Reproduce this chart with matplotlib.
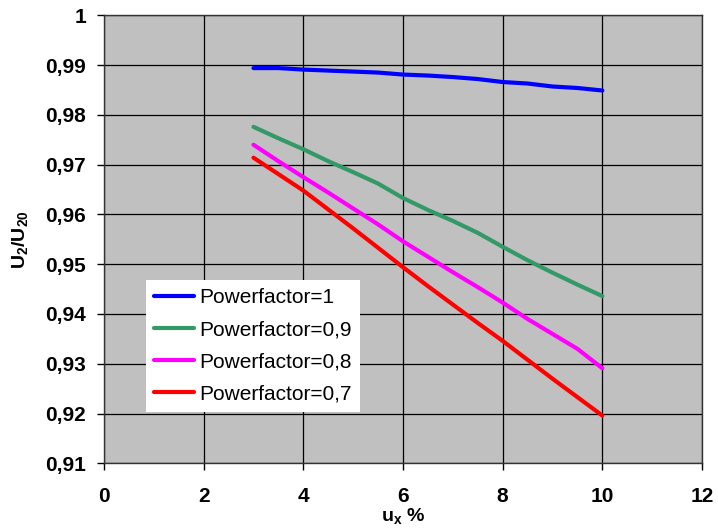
import numpy as np
import matplotlib.pyplot as plt

plt.rcParams['font.family'] = ['Liberation Sans', 'DejaVu Sans']
plt.rcParams['mathtext.fontset'] = 'custom'
plt.rcParams['mathtext.rm'] = 'Liberation Sans'
plt.rcParams['mathtext.bf'] = 'Liberation Sans:bold'

ux = [3, 3.5, 4, 4.5, 5, 5.5, 6, 6.5, 7, 7.5, 8, 8.5, 9, 9.5, 10]
pf_10 = [0.9894, 0.9894, 0.9891, 0.9889, 0.9887, 0.9885, 0.9881, 0.9879,
         0.9876, 0.9872, 0.9866, 0.9863, 0.9857, 0.9854, 0.9849]
pf_09 = [0.9776, 0.9753, 0.9731, 0.9707, 0.9685, 0.9662, 0.9633, 0.9609,
         0.9587, 0.9563, 0.9535, 0.9508, 0.9483, 0.9459, 0.9436]
pf_08 = [0.9740, 0.9707, 0.9675, 0.9644, 0.9612, 0.9580, 0.9546, 0.9515,
         0.9484, 0.9454, 0.9423, 0.9390, 0.9360, 0.9330, 0.9291]
pf_07 = [0.9714, 0.9681, 0.9648, 0.9610, 0.9572, 0.9533, 0.9494, 0.9456,
         0.9419, 0.9382, 0.9346, 0.9308, 0.9270, 0.9233, 0.9196]

labels = ['Powerfactor=1', 'Powerfactor=0,9', 'Powerfactor=0,8', 'Powerfactor=0,7']
colors = ['#0000FF', '#339966', '#FF00FF', '#FF0000']

fig = plt.figure(figsize=(7.18, 5.32), dpi=100)
ax = fig.add_axes([0.1448, 0.1291, 0.8329, 0.8421])
ax.set_facecolor('#C0C0C0')

for y, lab, c in zip([pf_10, pf_09, pf_08, pf_07], labels, colors):
	ax.plot(ux, y, color=c, lw=3, label=lab, solid_capstyle='round')

ax.set_xlim(0, 12)
ax.set_ylim(0.91, 1.0)
ax.set_xticks(np.arange(0, 13, 2))
yt = np.round(np.arange(0.91, 1.0001, 0.01), 2)
ax.set_yticks(yt)
ax.set_yticklabels(['1' if v == 1 else f'{v:.2f}'.replace('.', ',') for v in yt])
ax.grid(True, color='black', lw=0.9)
ax.set_axisbelow(True)
for s in ax.spines.values():
	s.set_color('#333333')
	s.set_linewidth(1)
ax.tick_params(direction='out', length=5, width=1, labelsize=15)
ax.tick_params(axis='x', pad=12)
ax.tick_params(axis='y', pad=8)
for t in ax.get_xticklabels() + ax.get_yticklabels():
	t.set_fontweight('bold')

ax.set_xlabel(r'$\mathbf{u_x}$ %', fontsize=14, fontweight='bold', labelpad=0)
ax.set_ylabel(r'$\mathbf{U_2/U_{20}}$', fontsize=14, fontweight='bold', labelpad=11)

leg = ax.legend(loc='upper left', bbox_to_anchor=(0.0702, 0.409), borderaxespad=0,
	fontsize=15, fancybox=False, framealpha=1, edgecolor='white',
	handlelength=1.9, handletextpad=0.25, labelspacing=0.62, borderpad=0.4)
leg.get_frame().set_linewidth(0)

plt.savefig('out.png')
